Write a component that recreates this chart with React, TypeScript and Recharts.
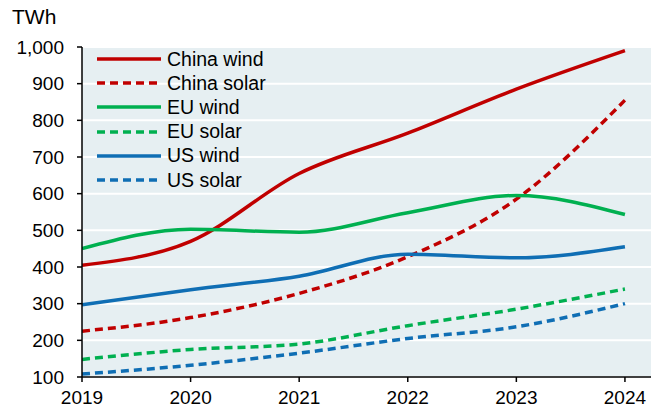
import React from "react";
import { LineChart, Line, XAxis, YAxis, CartesianGrid } from "recharts";

const years = [2019, 2020, 2021, 2022, 2023, 2024];
const chinaWind = [405, 470, 655, 765, 885, 990];
const chinaSolar = [225, 262, 328, 428, 585, 855];
const euWind = [450, 503, 495, 548, 595, 543];
const euSolar = [148, 175, 190, 240, 285, 340];
const usWind = [297, 338, 375, 435, 425, 455];
const usSolar = [108, 132, 165, 205, 237, 300];
const yTicks = [100, 200, 300, 400, 500, 600, 700, 800, 900, 1000];

const RED = "#C00000";
const GREEN = "#00B050";
const BLUE = "#0F6EB4";

const series = [
  { key: "chinaWind", name: "China wind", color: RED, dashed: false, values: chinaWind },
  { key: "chinaSolar", name: "China solar", color: RED, dashed: true, values: chinaSolar },
  { key: "euWind", name: "EU wind", color: GREEN, dashed: false, values: euWind },
  { key: "euSolar", name: "EU solar", color: GREEN, dashed: true, values: euSolar },
  { key: "usWind", name: "US wind", color: BLUE, dashed: false, values: usWind },
  { key: "usSolar", name: "US solar", color: BLUE, dashed: true, values: usSolar },
];

const data = years.map((y, i) => {
  const row: Record<string, number> = { year: y };
  series.forEach((s) => (row[s.key] = s.values[i]));
  return row;
});

const FONT = "Arial, 'Liberation Sans', sans-serif";

export default function App() {
  return (
    <div style={{ position: "absolute", left: 0, top: 0, width: 653, height: 406, background: "#fff", fontFamily: FONT, overflow: "hidden" }}>
      <LineChart width={653} height={406} data={data} margin={{ top: 47, right: 2, bottom: 0, left: 0 }}>
        <CartesianGrid horizontal vertical={false} stroke="#ffffff" strokeWidth={2} fill="#E6EFF2" />
        <XAxis
          dataKey="year"
          type="number"
          domain={[2019, 2024.24]}
          ticks={years}
          allowDataOverflow
          height={29}
          tickSize={5}
          tickMargin={9}
          axisLine={{ stroke: "#000", strokeWidth: 1.5 }}
          tickLine={{ stroke: "#000", strokeWidth: 1.5 }}
          tick={{ fill: "#000", fontSize: 19, fontFamily: FONT }}
        />
        <YAxis
          type="number"
          domain={[100, 1000]}
          ticks={yTicks}
          width={82}
          tickSize={5}
          tickMargin={13}
          tickFormatter={(v: number) => v.toLocaleString("en-US")}
          axisLine={{ stroke: "#000", strokeWidth: 1.5 }}
          tickLine={{ stroke: "#000", strokeWidth: 1.5 }}
          tick={{ fill: "#000", fontSize: 19, fontFamily: FONT }}
        />
        {series.map((s) => (
          <Line
            key={s.key}
            dataKey={s.key}
            name={s.name}
            type="monotone"
            stroke={s.color}
            strokeWidth={3.5}
            strokeDasharray={s.dashed ? "8 5" : undefined}
            dot={false}
            activeDot={false}
            isAnimationActive={false}
          />
        ))}
      </LineChart>
      <div style={{ position: "absolute", left: 12, top: 5, fontSize: 21, color: "#000" }}>TWh</div>
      <div style={{ position: "absolute", left: 96, top: 47 }}>
        {series.map((s) => (
          <div key={s.key} style={{ display: "flex", alignItems: "center", height: 24.2, fontSize: 19.5, color: "#000" }}>
            <svg width={66} height={10} style={{ marginRight: 5 }}>
              <line x1={1} y1={5} x2={65} y2={5} stroke={s.color} strokeWidth={3.5} strokeDasharray={s.dashed ? "8 5" : undefined} />
            </svg>
            <span>{s.name}</span>
          </div>
        ))}
      </div>
    </div>
  );
}
